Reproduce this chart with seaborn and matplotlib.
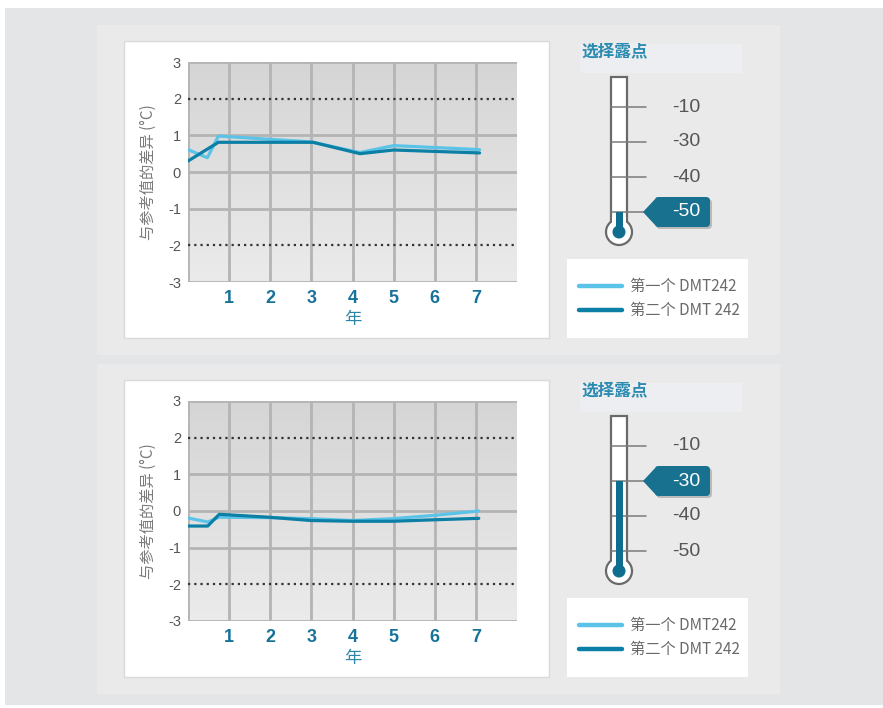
import numpy as np
import pandas as pd
import matplotlib.pyplot as plt
import seaborn as sns
from matplotlib.colors import LinearSegmentedColormap
from matplotlib.patches import Rectangle, Circle, FancyBboxPatch, Polygon

# ---- data ----
series_names = ["第一个 DMT242", "第二个 DMT 242"]

# upper chart (dew point -50)
top_years_1 = [0, 0.47, 0.74, 3.0, 4.18, 5.0, 7.09]
top_diff_1 = [0.61, 0.39, 0.98, 0.82, 0.53, 0.72, 0.61]
top_years_2 = [0, 0.74, 3.04, 4.18, 5.0, 7.09]
top_diff_2 = [0.30, 0.81, 0.81, 0.50, 0.60, 0.52]

# lower chart (dew point -30)
bot_years_1 = [0, 0.48, 0.76, 1.97, 3.0, 4.0, 4.97, 5.98, 7.07]
bot_diff_1 = [-0.19, -0.30, -0.17, -0.18, -0.21, -0.26, -0.21, -0.12, 0.0]
bot_years_2 = [0, 0.48, 0.76, 1.97, 3.0, 4.0, 4.97, 5.98, 7.07]
bot_diff_2 = [-0.41, -0.41, -0.09, -0.17, -0.26, -0.28, -0.28, -0.24, -0.20]

x_ticks = [1, 2, 3, 4, 5, 6, 7]
y_ticks = [-3, -2, -1, 0, 1, 2, 3]
limit_lines = [-2, 2]

dew_levels = ["-10", "-30", "-40", "-50"]
selected_levels = ["-50", "-30"]

LIGHT = "#5cc3e8"
DARK = "#0b7fa5"
TEAL_TXT = "#17729a"
W, H = 883, 708
CJK = ["Noto Sans CJK SC", "DejaVu Sans"]
LAT = ["Liberation Sans", "DejaVu Sans"]


def make_df(y1, d1, y2, d2):
    return pd.concat([
        pd.DataFrame({"year": y1, "diff": d1, "series": series_names[0]}),
        pd.DataFrame({"year": y2, "diff": d2, "series": series_names[1]}),
    ])


def px_box(l, t, r, b):
    return [l / W, 1 - b / H, (r - l) / W, (b - t) / H]


sns.set_theme(style="white")
plt.rcParams["font.family"] = ["Liberation Sans", "Noto Sans CJK SC", "DejaVu Sans"]
plt.rcParams["axes.unicode_minus"] = False

fig = plt.figure(figsize=(W / 100, H / 100), dpi=100)
fig.patch.set_facecolor("white")

# background layer in pixel coordinates
bg = fig.add_axes([0, 0, 1, 1], zorder=-5)
bg.set_xlim(0, W)
bg.set_ylim(H, 0)
bg.axis("off")
bg.add_patch(Rectangle((5, 8), W - 5, 697, fc="#e4e5e7", ec="none"))

grad_cmap = LinearSegmentedColormap.from_list("plotbg", ["#d5d5d5", "#ebebeb"])


def draw_panel(off, df, selected):
    # panel, chart card, legend card, title card
    bg.add_patch(Rectangle((97, 25 + off), 683, 330, fc="#eaeaea", ec="none"))
    bg.add_patch(Rectangle((124, 41 + off), 425, 297, fc="white", ec="#dadada", lw=1))
    bg.add_patch(Rectangle((567, 259 + off), 181, 79, fc="white", ec="none"))
    bg.add_patch(Rectangle((580, 44 + off), 162, 29, fc="#eceef1", ec="none"))
    bg.text(581, 51 + off, "选择露点", color="#2b8bb0", fontsize=12, fontweight="bold",
            va="center", ha="left", family=CJK)

    # thermometer
    top = 77 + off
    x0, x1, cx = 611, 627, 619
    tick_y = [top + 30 + 35 * i for i in range(len(dew_levels))]
    bulb_y = tick_y[-1] + 20
    bg.add_patch(Rectangle((x0, top), x1 - x0, bulb_y - top, fc="white", ec="#6a6a6a", lw=1.6, zorder=2))
    bg.add_patch(Circle((cx, bulb_y), 13, fc="white", ec="#6a6a6a", lw=1.6, zorder=2))
    bg.add_patch(Rectangle((x0 + 1.3, bulb_y - 15), x1 - x0 - 2.6, 8, fc="white", ec="none", zorder=3))
    for y in tick_y:
        bg.plot([x0, 646], [y, y], color="#7a7a7a", lw=1.1, zorder=3.5)
    sel_y = tick_y[dew_levels.index(selected)]
    bg.add_patch(Rectangle((cx - 3.5, sel_y), 7, bulb_y - sel_y, fc="#0f6d8d", ec="none", zorder=4))
    bg.add_patch(Circle((cx, bulb_y), 6.5, fc="#0f6d8d", ec="none", zorder=4))
    for lev, y in zip(dew_levels, tick_y):
        if lev == selected:
            for dx, fc, a, z in [(2, "#000000", 0.2, 4.5), (0, "#17718f", 1, 5)]:
                bg.add_patch(FancyBboxPatch((655 + dx, y - 15 + dx), 55, 30,
                                            boxstyle="round,pad=0,rounding_size=4",
                                            fc=fc, ec="none", alpha=a, zorder=z))
                bg.add_patch(Polygon([(643 + dx, y + dx), (657 + dx, y - 15 + dx), (657 + dx, y + 15 + dx)],
                                     closed=True, fc=fc, ec="none", alpha=a, zorder=z))
            bg.text(686, y, lev, color="white", fontsize=14, ha="center", va="center",
                    family=LAT, zorder=6)
        else:
            bg.text(686, y, lev, color="#555555", fontsize=14, ha="center", va="center",
                    family=LAT, zorder=6)

    # line chart
    ax = fig.add_axes(px_box(188, 62 + off, 517, 282 + off))
    ax.imshow(np.linspace(0, 1, 256).reshape(-1, 1), extent=(0, 8, -3, 3), aspect="auto",
              cmap=grad_cmap, origin="upper", zorder=0)
    for y in y_ticks:
        if y not in limit_lines:
            ax.axhline(y, color="#b4b4b4", lw=2, zorder=1)
    for x in [0] + x_ticks:
        ax.axvline(x, color="#b4b4b4", lw=2, zorder=1)
    for y in limit_lines:
        ax.axhline(y, color="#333333", lw=1.6, linestyle=(0, (1, 1.8)), zorder=2)

    sns.lineplot(data=df, x="year", y="diff", hue="series", palette=[LIGHT, DARK],
                 estimator=None, sort=False, lw=2.3, ax=ax, zorder=3)

    ax.set_xlim(0, 8)
    ax.set_ylim(-3, 3)
    for s in ax.spines.values():
        s.set_visible(False)
    ax.set_xticks(x_ticks)
    ax.set_yticks(y_ticks)
    ax.set_xticklabels([str(v) for v in x_ticks], family=LAT, fontweight="bold")
    ax.set_yticklabels([str(v) for v in y_ticks], family=LAT)
    ax.tick_params(axis="x", length=0, pad=6, labelsize=13, labelcolor=TEAL_TXT)
    ax.tick_params(axis="y", length=0, pad=5, labelsize=10.5, labelcolor="#555555")
    ax.set_xlabel("年", color="#2a87a8", fontsize=12.5, labelpad=2, family=CJK)
    ax.set_ylabel("与参考值的差异 (°C)", color="#7a7a7a", fontsize=11, labelpad=8, family=CJK)

    leg = ax.legend(loc="center left", bbox_to_anchor=(579 / W, 1 - (298.5 + off) / H),
                    bbox_transform=fig.transFigure, frameon=False,
                    handlelength=2.8, handletextpad=0.55, labelspacing=0.45,
                    borderpad=0, borderaxespad=0, labelcolor="#6a6a6a",
                    prop={"family": CJK, "size": 11})
    for line in leg.get_lines():
        line.set_linewidth(3.2)


draw_panel(0, make_df(top_years_1, top_diff_1, top_years_2, top_diff_2), selected_levels[0])
draw_panel(339, make_df(bot_years_1, bot_diff_1, bot_years_2, bot_diff_2), selected_levels[1])

fig.savefig("out.png", dpi=100)
